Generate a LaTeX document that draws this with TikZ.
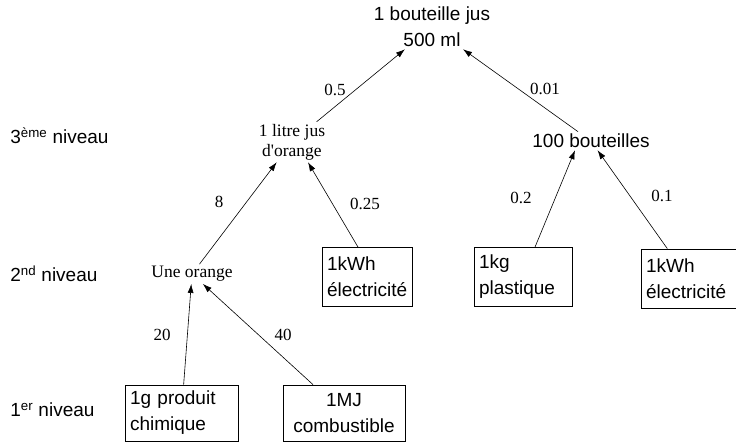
\documentclass[tikz,border=0pt]{standalone}
\usepackage{fontspec}
\setmainfont{Liberation Serif}
\setsansfont{Liberation Sans}
\usetikzlibrary{arrows.meta}

\tikzset{
  sans/.style={font=\sffamily\fontsize{19}{26}\selectfont, inner sep=2pt},
  serif/.style={font=\rmfamily\fontsize{17.5}{20}\selectfont, inner sep=2pt},
  box/.style={sans, draw, line width=0.8pt, inner xsep=5pt, minimum height=59pt, align=left},
  num/.style={font=\rmfamily\fontsize{17}{20}\selectfont},
  lvl/.style={sans, anchor=west},
}

\begin{document}
\begin{tikzpicture}[x=1pt, y=-1pt, >={Latex[length=9pt,width=6pt]}, line width=0.6pt]
  \useasboundingbox (0,0) rectangle (736,443);
  % levels
  \node[lvl] (L3) at (8,136) {3\textsuperscript{ème} niveau};
  \node[lvl] (L2) at (8,274) {2\textsuperscript{nd} niveau};
  \node[lvl] (L1) at (8,410) {1\textsuperscript{er} niveau};

  % products
  \node[sans, align=center] (B) at (432,27) {1 bouteille jus\\500 ml};
  \node[serif, align=center] (J) at (292,142) {1 litre jus\\d\textquotesingle orange};
  \node[sans] (P) at (591,141) {100 bouteilles};
  \node[serif] (O) at (192,274) {Une orange};

  % inputs
  \node[box, text width=80pt] (E1) at (367,277) {1kWh\\électricité};
  \node[box, text width=88pt] (K) at (523,277) {1kg\\plastique};
  \node[box, text width=85pt] (E2) at (688.5,278.5) {1kWh\\électricité};
  \node[box, text width=103pt, minimum height=56pt] (G) at (181.5,413) {1g produit\\chimique};
  \node[box, text width=112pt, minimum height=56pt, align=center] (M) at (344,413) {1MJ\\combustible};

  \draw [->] (J) -- (B);
  \draw [->] (P) -- (B);
  \draw [->] (O) -- (J);
  \draw [->] ([xshift=-9pt]E1.north) -- ([xshift=16pt]J.south);
  \draw [->] ([xshift=12pt]K.north) -- ([xshift=-16pt]P.south);
  \draw [->] (E2) -- (P);
  \draw [->] (G) -- (O);
  \draw [->] (M) -- (O);

  % quantities
  \node[num] (q1) at (335,90) {0.5};
  \node[num] (q2) at (545,89) {0.01};
  \node[num] (q3) at (219,202) {8};
  \node[num] (q4) at (365,204) {0.25};
  \node[num] (q5) at (521,198) {0.2};
  \node[num] (q6) at (662,196) {0.1};
  \node[num] (q7) at (162,335) {20};
  \node[num] (q8) at (283,335) {40};
\end{tikzpicture}
\end{document}
